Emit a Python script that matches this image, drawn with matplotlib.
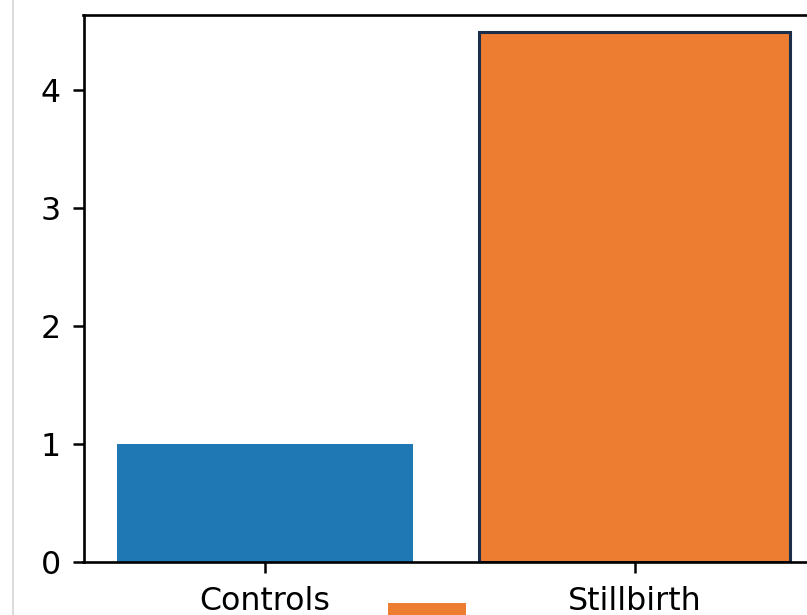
import matplotlib
matplotlib.use("Agg")
import matplotlib.pyplot as plt
from matplotlib.patches import Rectangle
from matplotlib.lines import Line2D

categories = ["Controls", "Stillbirth"]
values = [1.0, 4.49]
bar_colors = ["#1f77b4", "#ed7d31"]
yticks = [0, 1, 2, 3, 4]

W, H = 807, 615
fig = plt.figure(figsize=(W / 100, H / 100), dpi=100)

left_px, right_px = 83.5, 816.0
top_px, bottom_px = 15.0, 562.0
ax = fig.add_axes([left_px / W, (H - bottom_px) / H,
                   (right_px - left_px) / W, (bottom_px - top_px) / H])

x = list(range(len(categories)))
ax.bar(x[0], values[0], width=0.8, color=bar_colors[0], zorder=1)
ax.bar(x[1], values[1], width=0.84, color=bar_colors[1],
       edgecolor="#1c2e4a", linewidth=2.2, zorder=1)

ax.set_xlim(-0.49, 1.49)
ax.set_ylim(0, 4.636)
ax.set_xticks(x)
ax.set_xticklabels(categories)
ax.set_yticks(yticks)

for s in ax.spines.values():
    s.set_linewidth(1.9)
    s.set_zorder(3)
ax.tick_params(axis="both", labelsize=22.8, length=7.7, width=1.8, pad=8.5)
ax.tick_params(axis="x", pad=9.5)

# light gray vertical rule at the left edge of the screenshot
fig.add_artist(Line2D([13.5 / W, 13.5 / W], [0, 1], transform=fig.transFigure,
                      color="#d6d6d6", linewidth=1.2))
# partially visible orange patch at the bottom
fig.add_artist(Rectangle((388 / W, 0), 78 / W, 12 / H, transform=fig.transFigure,
                         facecolor=bar_colors[1], edgecolor="none"))

fig.savefig("out.png", dpi=100)
